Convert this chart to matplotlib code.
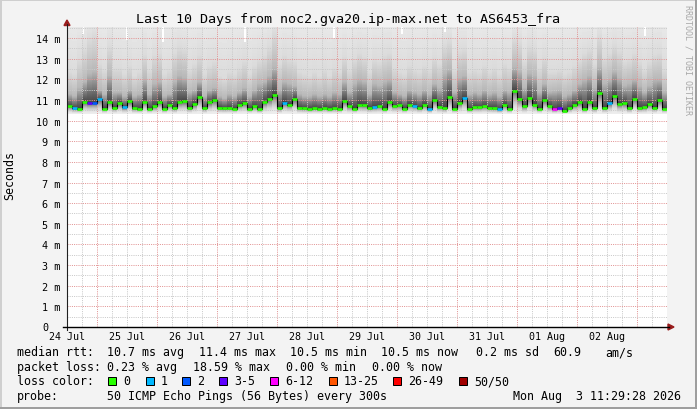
import numpy as np
import matplotlib
matplotlib.use('Agg')
import matplotlib.pyplot as plt
from matplotlib.lines import Line2D
from matplotlib.patches import Rectangle, Polygon
from matplotlib.transforms import ScaledTranslation

# ---------------- data ----------------
title = "Last 10 Days from noc2.gva20.ip-max.net to AS6453_fra"
day_labels = ["24 Jul", "25 Jul", "26 Jul", "27 Jul", "28 Jul",
              "29 Jul", "30 Jul", "31 Jul", "01 Aug", "02 Aug"]
ytick_vals = list(range(15))
ytick_labels = ["0"] + [f"{i} m" for i in range(1, 15)]

# median rtt (ms), one value per 2 hours
median_ms = [
    10.70, 10.60, 10.58, 10.90, 10.85, 10.86, 11.03, 10.58, 10.90, 10.62,
    10.84, 10.64, 10.93, 10.60, 10.58, 10.92, 10.58, 10.70, 10.90, 10.57,
    10.77, 10.60, 10.90, 10.93, 10.62, 10.80, 11.15, 10.60, 10.88, 11.00,
    10.62, 10.60, 10.62, 10.58, 10.78, 10.85, 10.58, 10.70, 10.55, 10.90,
    11.05, 11.25, 10.60, 10.87, 10.78, 11.05, 10.62, 10.60, 10.57, 10.60,
    10.58, 10.62, 10.57, 10.60, 10.58, 10.95, 10.70, 10.58, 10.77, 10.75,
    10.62, 10.66, 10.70, 10.58, 10.90, 10.72, 10.75, 10.58, 10.78, 10.72,
    10.62, 10.78, 10.55, 11.00, 10.68, 10.60, 11.15, 10.58, 10.85, 11.08,
    10.57, 10.66, 10.65, 10.70, 10.62, 10.60, 10.55, 10.77, 10.57, 11.45,
    11.05, 10.70, 11.10, 10.78, 10.58, 11.00, 10.70, 10.55, 10.62, 10.47,
    10.60, 10.78, 10.88, 10.57, 10.90, 10.60, 11.32, 10.62, 10.85, 11.20,
    10.80, 10.85, 10.60, 11.05, 10.62, 10.65, 10.80, 10.62, 11.00, 10.58,
]
# loss class index per interval (0 = no loss, 1 = 1 lost, 2 = 2, 3 = 3-5, 4 = 6-12)
loss_class = [
    0, 1, 0, 0, 3, 2, 1, 0, 0, 0,
    0, 1, 0, 0, 0, 0, 0, 0, 0, 0,
    0, 0, 0, 0, 0, 0, 0, 0, 0, 0,
    0, 0, 0, 0, 0, 0, 0, 0, 0, 0,
    0, 0, 0, 1, 0, 0, 0, 0, 0, 0,
    0, 0, 0, 0, 0, 0, 0, 0, 0, 0,
    0, 1, 0, 0, 0, 0, 0, 0, 0, 1,
    0, 0, 1, 0, 0, 0, 0, 0, 0, 1,
    0, 0, 0, 0, 0, 0, 1, 0, 0, 0,
    0, 0, 0, 0, 0, 0, 0, 4, 3, 0,
    0, 0, 0, 0, 0, 0, 0, 0, 1, 0,
    0, 0, 0, 0, 0, 0, 0, 0, 0, 0,
]
# smoke: height where dark smoke ends, and where mid-grey smoke ends (ms)
smoke_dark = [
    11.3, 11.2, 11.6, 11.9, 12.3, 12.4, 11.5, 11.3, 12.2, 11.4,
    11.4, 11.2, 11.5, 11.2, 11.3, 12.0, 11.3, 11.8, 11.9, 11.2,
    11.3, 11.9, 12.2, 12.1, 11.4, 11.5, 11.9, 11.2, 11.5, 11.6,
    11.2, 11.1, 11.3, 11.2, 11.4, 11.6, 11.2, 11.5, 11.8, 11.9,
    12.2, 12.6, 11.5, 11.9, 11.8, 11.7, 11.3, 11.2, 11.2, 11.3,
    11.2, 11.3, 11.2, 11.4, 11.3, 11.9, 11.4, 11.8, 12.0, 11.9,
    11.3, 11.8, 11.7, 11.9, 12.0, 11.4, 11.3, 11.2, 11.5, 11.4,
    11.3, 11.5, 11.3, 11.8, 11.6, 12.3, 12.5, 11.4, 12.1, 12.2,
    11.3, 11.4, 11.3, 11.5, 11.3, 11.4, 11.2, 11.5, 11.4, 12.6,
    12.4, 11.6, 12.3, 12.2, 11.4, 11.8, 11.4, 11.45, 11.5, 11.2,
    11.3, 11.5, 11.8, 12.0, 12.2, 11.6, 12.6, 11.8, 12.0, 12.4,
    12.1, 11.7, 11.8, 12.0, 11.7, 11.4, 11.7, 12.0, 12.0, 11.4,
]
smoke_grey = [
    12.4, 12.3, 13.0, 13.5, 14.0, 14.2, 12.8, 12.5, 13.6, 12.6,
    12.6, 12.3, 12.7, 12.2, 12.4, 13.2, 12.5, 13.2, 13.3, 12.3,
    12.5, 13.3, 13.6, 13.5, 12.5, 12.8, 13.2, 12.3, 12.7, 12.9,
    12.2, 12.1, 12.4, 12.3, 12.6, 12.9, 12.3, 12.7, 13.0, 13.2,
    13.6, 14.3, 12.8, 13.2, 13.0, 12.9, 12.4, 12.3, 12.2, 12.4,
    12.2, 12.5, 12.2, 12.6, 12.4, 13.1, 12.5, 13.0, 13.3, 13.1,
    12.4, 13.0, 12.9, 13.2, 13.3, 12.6, 12.4, 12.3, 12.7, 12.5,
    12.4, 12.7, 12.5, 13.1, 12.8, 13.7, 13.9, 12.5, 13.4, 13.5,
    12.4, 12.5, 12.4, 12.7, 12.4, 12.6, 12.3, 12.8, 12.6, 14.0,
    13.8, 12.9, 13.6, 13.5, 12.6, 13.1, 12.4, 12.4, 12.5, 12.3,
    12.4, 12.7, 13.0, 13.3, 13.5, 12.8, 14.1, 13.1, 13.3, 13.7,
    13.4, 12.9, 13.0, 13.3, 12.9, 12.5, 12.9, 13.2, 13.3, 12.5,
]
smoke_floor = 10.33
# short gaps at the top of the smoke (time in days from left edge, top of smoke in ms)
gap_t = [0.27, 1.00, 1.60, 2.97, 4.45, 5.58, 6.30, 9.63]
gap_top = [14.2, 13.9, 13.8, 13.8, 14.0, 14.2, 14.3, 14.1]

loss_colors = ["#26ff00", "#00b8ff", "#0059ff", "#5e00ff", "#ff00ff",
               "#ff5500", "#ff0000", "#a10000"]
loss_names = ["0", "1", "2", "3-5", "6-12", "13-25", "26-49", "50/50"]

# ---------------- figure ----------------
W, H = 697, 410
fig = plt.figure(figsize=(W / 100, H / 100), dpi=100)
fig.patch.set_facecolor('#f3f3f3')
MONO = 'DejaVu Sans Mono'


def fx(x):
    return x / W


def fy(y):
    return 1 - y / H


PL, PR, PT, PB = 67, 667, 28, 328
PX_PER_MS = 20.64
ax = fig.add_axes([fx(PL), fy(PB), (PR - PL) / W, (PB - PT) / H])
ymax = (PB - PT) / PX_PER_MS
ax.set_xlim(0, 10)
ax.set_ylim(0, ymax)
ax.set_facecolor('white')
for s in ax.spines.values():
    s.set_visible(False)

N = len(median_ms)
edges = np.arange(N + 1) * 10.0 / N

# smoke image
hs = np.arange(10.2, ymax + 0.3, 0.01)
img = np.ones((len(hs), N))
for k in range(N):
    m, d, g = median_ms[k], smoke_dark[k], smoke_grey[k]
    col = np.ones_like(hs)
    a = (hs >= smoke_floor) & (hs < m)
    col[a] = 0.93 - 0.55 * ((hs[a] - smoke_floor) / (m - smoke_floor)) ** 2
    b = (hs >= m) & (hs < d)
    col[b] = 0.26 + 0.46 * (hs[b] - m) / (d - m)
    c = (hs >= d) & (hs < g)
    col[c] = 0.72 + 0.14 * (hs[c] - d) / (g - d)
    e = hs >= g
    col[e] = 0.86 + 0.06 * np.clip((hs[e] - g) / (15.0 - g), 0, 1)
    img[:, k] = col
ax.imshow(img, extent=[0, 10, hs[0] - 0.005, hs[-1] + 0.005], origin='lower',
          aspect='auto', cmap='gray', vmin=0, vmax=1, interpolation='nearest',
          zorder=1)
ax.bar(gap_t, [ymax + 0.5 - v for v in gap_top], bottom=gap_top, width=0.03,
       color='white', zorder=1.5, linewidth=0)

# grid
MINOR_C, MAJOR_C = '#c9c9c9', '#e29494'
for j in range(1, 40):
    t = j * 0.25
    major = (j % 4 == 2)
    ax.axvline(t, color=MAJOR_C if major else MINOR_C, lw=0.72,
               linestyle=(0, (1, 1.2)), zorder=2)
for i in range(1, 30):
    v = i * 0.5
    if v > ymax:
        break
    major = (i % 2 == 0)
    ax.axhline(v, color=MAJOR_C if major else MINOR_C, lw=0.72,
               linestyle=(0, (1, 1.2)), zorder=2)

# median line
ax.step(edges, list(median_ms) + [median_ms[-1]], where='post', color='black',
        lw=0.8, zorder=3)
ax.hlines(median_ms, edges[:-1], edges[1:],
          colors=[loss_colors[c] for c in loss_class], lw=1.9, zorder=4)

# ticks
ax.set_xticks(range(10))
ax.set_xticklabels(day_labels, family=MONO, fontsize=7.2)
ax.set_yticks(ytick_vals)
ax.set_yticklabels(ytick_labels, family=MONO, fontsize=7.3)
ax.tick_params(axis='x', length=0, pad=3.2)
ax.tick_params(axis='y', length=0, pad=5)
lab0 = ax.get_yticklabels()[0]
lab0.set_transform(lab0.get_transform() + ScaledTranslation(-12 / 100, 1 / 100, fig.dpi_scale_trans))

# axes lines and arrows
fig.add_artist(Line2D([fx(67), fx(67)], [fy(331), fy(25)], color='#202020', lw=0.8))
fig.add_artist(Line2D([fx(63), fx(669)], [fy(328), fy(328)], color='black', lw=1.0))
fig.add_artist(Polygon([(fx(64), fy(26.5)), (fx(70), fy(26.5)), (fx(67), fy(21))],
                       closed=True, color='#9a1c1c', transform=fig.transFigure))
fig.add_artist(Polygon([(fx(668), fy(325)), (fx(668), fy(331)), (fx(674), fy(328))],
                       closed=True, color='#9a1c1c', transform=fig.transFigure))

# border
fig.add_artist(Rectangle((0, fy(2)), 1, 2 / H, transform=fig.transFigure, color='#cfcfcf', lw=0))
fig.add_artist(Rectangle((0, 0), 2 / W, 1, transform=fig.transFigure, color='#cfcfcf', lw=0))
fig.add_artist(Rectangle((0, 0), 1, 2 / H, transform=fig.transFigure, color='#9e9e9e', lw=0))
fig.add_artist(Rectangle((fx(695), 0), 2 / W, 1, transform=fig.transFigure, color='#9e9e9e', lw=0))

# texts
fig.text(fx(348), fy(19), title, ha='center', va='center', family=MONO, fontsize=9.6)
fig.text(fx(10), fy(176), "Seconds", ha='center', va='center', rotation=90,
         family=MONO, fontsize=8.4)
fig.text(fx(688), fy(60), "RRDTOOL / TOBI OETIKER", ha='center', va='center',
         rotation=270, family=MONO, fontsize=6.0, color='#a8a8a8')

FS = 8.4
line1 = [(17, "median rtt:"), (107, "10.7 ms avg"), (199, "11.4 ms max"),
         (290, "10.5 ms min"), (381, "10.5 ms now"), (476, "0.2 ms sd"),
         (553, "60.9"), (605, "am/s")]
line2 = [(17, "packet loss:"), (107, "0.23 % avg"), (193, "18.59 % max"),
         (286, "0.00 % min"), (372, "0.00 % now")]
line4 = [(17, "probe:"), (107, "50 ICMP Echo Pings (56 Bytes) every 300s"),
         (513, "Mon Aug  3 11:29:28 2026")]
for y, items in ((353, line1), (368, line2), (397, line4)):
    for x, s in items:
        fig.text(fx(x), fy(y), s, ha='left', va='center', family=MONO, fontsize=FS)

fig.text(fx(17), fy(382), "loss color:", ha='left', va='center', family=MONO, fontsize=FS)
box_x = [108, 146, 182, 219, 270, 329, 393, 459]
for bx, c, name in zip(box_x, loss_colors, loss_names):
    fig.add_artist(Rectangle((fx(bx), fy(386)), 8 / W, 8 / H, transform=fig.transFigure,
                             facecolor=c, edgecolor='black', lw=0.72))
    fig.text(fx(bx + 15), fy(382), name, ha='left', va='center', family=MONO, fontsize=FS)

fig.savefig('out.png', dpi=100, facecolor=fig.get_facecolor())
